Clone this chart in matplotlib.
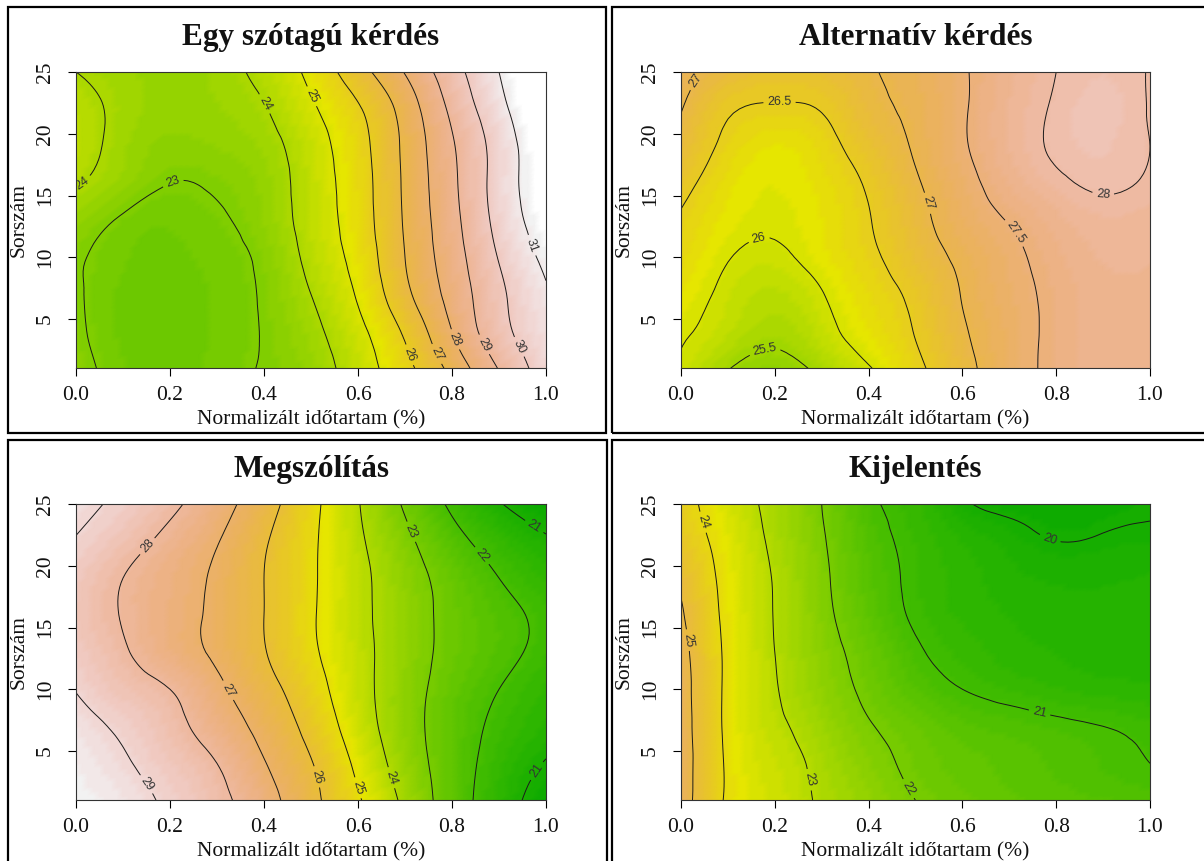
import colorsys
import numpy as np
import matplotlib
matplotlib.use("Agg")
import matplotlib.pyplot as plt
import matplotlib.tri as mtri
from matplotlib.colors import ListedColormap, Normalize
from matplotlib.patches import Rectangle

# ---------------- data ----------------
x_vals = [0.0, 0.1, 0.2, 0.3, 0.4, 0.5, 0.6, 0.7, 0.8, 0.9, 1.0]
y_vals = [1, 4, 7, 10, 13, 16, 19, 22, 25]

titles = ["Egy szótagú kérdés", "Alternatív kérdés", "Megszólítás", "Kijelentés"]
x_label = "Normalizált időtartam (%)"
y_label = "Sorszám"
x_ticks = [0.0, 0.2, 0.4, 0.6, 0.8, 1.0]
x_tick_labels = ["0.0", "0.2", "0.4", "0.6", "0.8", "1.0"]
y_ticks = [5, 10, 15, 20, 25]
y_tick_labels = ["5", "10", "15", "20", "25"]

# rows: y = 1, 4, 7, ..., 25 ; columns: x = 0.0 ... 1.0
egy_z = [
    [23.3, 22.7, 22.55, 22.75, 23.05, 23.5, 24.5, 25.7, 27.3, 29.05, 30.5],
    [23.15, 22.6, 22.5, 22.7, 23.05, 23.75, 24.75, 26.15, 28.0, 29.65, 30.7],
    [23.1, 22.6, 22.5, 22.7, 23.1, 24.0, 25.1, 26.75, 28.35, 29.8, 30.9],
    [23.1, 22.7, 22.6, 22.75, 23.2, 24.25, 25.35, 27.0, 28.55, 30.05, 31.2],
    [23.5, 22.9, 22.7, 22.9, 23.4, 24.4, 25.5, 27.1, 28.7, 30.3, 31.5],
    [24.05, 23.5, 23.0, 23.1, 23.5, 24.45, 25.55, 27.15, 28.8, 30.4, 31.7],
    [24.4, 23.7, 23.3, 23.4, 23.7, 24.55, 25.65, 27.2, 28.9, 30.4, 31.9],
    [24.3, 23.8, 23.5, 23.6, 23.95, 24.85, 25.9, 27.4, 29.2, 30.7, 32.3],
    [24.0, 23.7, 23.5, 23.7, 24.25, 25.25, 26.6, 28.05, 29.6, 31.0, 32.5],
]
alt_z = [
    [25.95, 25.52, 25.35, 25.6, 25.97, 26.4, 26.85, 27.3, 27.6, 27.75, 27.75],
    [26.05, 25.8, 25.6, 25.85, 26.2, 26.52, 26.95, 27.3, 27.6, 27.75, 27.75],
    [26.2, 25.9, 25.75, 25.98, 26.3, 26.6, 27.02, 27.35, 27.6, 27.75, 27.75],
    [26.35, 26.02, 25.93, 26.15, 26.42, 26.75, 27.1, 27.4, 27.65, 27.8, 27.8],
    [26.45, 26.15, 26.05, 26.2, 26.48, 26.85, 27.25, 27.52, 27.75, 27.88, 27.85],
    [26.65, 26.25, 26.1, 26.25, 26.55, 26.95, 27.35, 27.7, 27.93, 28.05, 27.95],
    [26.85, 26.4, 26.2, 26.35, 26.7, 27.05, 27.45, 27.8, 28.05, 28.12, 28.0],
    [27.02, 26.55, 26.45, 26.52, 26.85, 27.1, 27.45, 27.8, 28.04, 28.15, 27.98],
    [27.15, 26.85, 26.7, 26.75, 26.95, 27.15, 27.45, 27.75, 28.0, 28.1, 27.98],
]
meg_z = [
    [29.6, 29.35, 28.85, 28.25, 27.4, 26.25, 25.1, 23.8, 22.5, 21.45, 20.55],
    [29.5, 29.1, 28.6, 28.0, 27.05, 26.05, 24.8, 23.55, 22.5, 21.6, 20.95],
    [29.3, 28.85, 28.3, 27.55, 26.7, 25.7, 24.5, 23.4, 22.5, 21.8, 21.3],
    [28.97, 28.45, 28.0, 27.2, 26.35, 25.4, 24.35, 23.4, 22.6, 22.0, 21.5],
    [28.7, 28.1, 27.45, 26.85, 26.05, 25.15, 24.3, 23.45, 22.75, 22.25, 21.75],
    [28.55, 27.95, 27.4, 26.8, 26.0, 25.1, 24.25, 23.45, 22.75, 22.25, 21.8],
    [28.65, 28.0, 27.45, 26.85, 26.0, 25.12, 24.25, 23.4, 22.65, 22.0, 21.5],
    [28.95, 28.4, 27.75, 27.05, 26.1, 25.15, 24.15, 23.2, 22.3, 21.6, 21.1],
    [29.25, 28.8, 28.2, 27.4, 26.4, 25.25, 24.05, 22.9, 21.85, 21.05, 20.5],
]
kij_z = [
    [25.5, 23.9, 23.4, 22.9, 22.45, 22.0, 21.75, 21.55, 21.45, 21.35, 21.3],
    [25.5, 23.9, 23.3, 22.8, 22.25, 21.85, 21.6, 21.45, 21.3, 21.15, 21.0],
    [25.45, 23.85, 23.15, 22.6, 22.05, 21.7, 21.4, 21.25, 21.12, 21.0, 20.85],
    [25.4, 23.85, 23.05, 22.4, 21.85, 21.35, 21.0, 20.8, 20.65, 20.55, 20.5],
    [25.3, 23.85, 23.0, 22.3, 21.7, 21.1, 20.75, 20.55, 20.45, 20.4, 20.4],
    [25.1, 23.8, 22.97, 22.2, 21.5, 20.9, 20.6, 20.45, 20.35, 20.35, 20.35],
    [24.85, 23.75, 22.95, 22.15, 21.4, 20.85, 20.55, 20.35, 20.25, 20.25, 20.3],
    [24.5, 23.65, 22.85, 22.08, 21.3, 20.8, 20.45, 20.2, 20.0, 20.05, 20.1],
    [24.3, 23.5, 22.75, 22.0, 21.15, 20.7, 20.1, 19.85, 19.8, 19.85, 19.95],
]

egy_levels = [23, 24, 25, 26, 27, 28, 29, 30, 31]
alt_levels = [25.5, 26, 26.5, 27, 27.5, 28]
meg_levels = [21, 22, 23, 24, 25, 26, 27, 28, 29]
kij_levels = [20, 21, 22, 23, 24, 25]

# colour-scale limits of each panel
egy_zlim = (19.3, 31.3)
alt_zlim = (23.55, 28.85)
meg_zlim = (20.2, 29.7)
kij_zlim = (19.4, 28.2)


# ---------------- helpers ----------------
def terrain_colors(n):
    k = n // 2
    h = (4 / 12, 2 / 12, 0.0)
    s = (1.0, 1.0, 0.0)
    v = (0.65, 0.9, 0.95)
    cols = [colorsys.hsv_to_rgb(a, b, c) for a, b, c in zip(
        np.linspace(h[0], h[1], k), np.linspace(s[0], s[1], k), np.linspace(v[0], v[1], k))]
    cols += [colorsys.hsv_to_rgb(a, b, c) for a, b, c in zip(
        np.linspace(h[1], h[2], n - k + 1)[1:], np.linspace(s[1], s[2], n - k + 1)[1:],
        np.linspace(v[1], v[2], n - k + 1)[1:])]
    return cols


cmap = ListedColormap(terrain_colors(50))
cmap.set_over("white")

plt.rcParams["font.family"] = ["Liberation Sans", "DejaVu Sans"]
SERIF = ["Liberation Serif", "DejaVu Serif"]

W, H = 1204, 861
fig = plt.figure(figsize=(W / 100, H / 100), dpi=100)


def frac_rect(l, t, r, b):
    return [l / W, 1 - b / H, (r - l) / W, (b - t) / H]


# panel frames
for (l, t, r, b) in [(8, 7, 606, 433), (612, 7, 1215, 433), (8, 440, 607, 875), (612, 440, 1215, 875)]:
    fig.add_artist(Rectangle((l / W, 1 - b / H), (r - l) / W, (b - t) / H,
                             transform=fig.transFigure, fill=False, lw=1.6, ec="black"))

xs = np.asarray(x_vals, float)
ys = np.asarray(y_vals, float)
nx, ny = len(xs), len(ys)
Xg, Yg = np.meshgrid(xs, ys)
yspan = ys.max() - ys.min()
tris = []
for j in range(ny - 1):
    for i in range(nx - 1):
        a = j * nx + i
        tris.append([a, a + 1, a + nx + 1])
        tris.append([a, a + nx + 1, a + nx])
base_tri = mtri.Triangulation(Xg.ravel(), (Yg.ravel() - ys.min()) / yspan, tris)
refiner = mtri.UniformTriRefiner(base_tri)

panels = [
    dict(title=titles[0], z=egy_z, levels=egy_levels, zlim=egy_zlim,
         px=(76, 72, 546, 368.4),
         lab=[(0.015, 15.9), (0.206, 16.1), (0.39, 22.2), (0.50, 23.0), (0.71, 2.1),
              (0.775, 2.3), (0.817, 3.5), (0.877, 3.1), (0.95, 2.9), (0.972, 11.0)]),
    dict(title=titles[1], z=alt_z, levels=alt_levels, zlim=alt_zlim,
         px=(681, 72, 1150, 368.4),
         lab=[(0.05, 23.8), (0.21, 22.7), (0.164, 11.9), (0.18, 2.2), (0.537, 14.5),
              (0.705, 11.8), (0.90, 14.6)]),
    dict(title=titles[2], z=meg_z, levels=meg_levels, zlim=meg_zlim,
         px=(76, 504, 546, 800.4),
         lab=[(0.157, 21.4), (0.15, 2.3), (0.328, 10.0), (0.502, 2.8), (0.598, 2.0),
              (0.668, 2.8), (0.71, 22.7), (0.86, 20.7), (0.972, 23.0), (0.98, 3.4)]),
    dict(title=titles[3], z=kij_z, levels=kij_levels, zlim=kij_zlim,
         px=(681, 504, 1150, 800.4),
         lab=[(0.019, 14.0), (0.062, 23.7), (0.264, 2.6), (0.478, 1.8), (0.765, 8.2),
              (0.787, 22.2)]),
]

for p in panels:
    l, t, r, b = p["px"]
    ax = fig.add_axes(frac_rect(l, t, r, b))
    rtri, rz = refiner.refine_field(np.asarray(p["z"], float).ravel(), subdiv=3)
    ptri = mtri.Triangulation(rtri.x, rtri.y * yspan + ys.min(), rtri.triangles)
    ax.tripcolor(ptri, rz, shading="gouraud", cmap=cmap,
                 norm=Normalize(vmin=p["zlim"][0], vmax=p["zlim"][1]))
    cs = ax.tricontour(ptri, rz, levels=p["levels"], colors="#1a1a1a", linewidths=0.7)
    ax.clabel(cs, manual=p["lab"], inline=True, inline_spacing=4, fontsize=9,
              colors="#333333", fmt=lambda v: f"{v:g}")
    ax.set_xlim(xs.min(), xs.max())
    ax.set_ylim(ys.min(), ys.max())
    ax.set_xticks(x_ticks)
    ax.set_xticklabels(x_tick_labels)
    ax.set_yticks(y_ticks)
    ax.set_yticklabels(y_tick_labels, rotation=90, va="center")
    ax.tick_params(axis="both", direction="out", length=6, width=0.8, color="black",
                   labelsize=15.5, labelfontfamily="Liberation Serif", labelcolor="#111111")
    ax.tick_params(axis="x", pad=7)
    ax.tick_params(axis="y", pad=9)
    for sp in ax.spines.values():
        sp.set_linewidth(0.8)
        sp.set_color("#333333")
    cx = (l + r) / 2
    fig.text(cx / W, 1 - (t - 27) / H, p["title"], ha="center", va="baseline",
             fontsize=22.5, fontweight="bold", family=SERIF, color="#111111")
    fig.text(cx / W, 1 - (b + 55.6) / H, x_label, ha="center", va="baseline",
             fontsize=15.5, family=SERIF, color="#111111")
    fig.text((l - 57) / W, 1 - ((t + b) / 2) / H, y_label, ha="center", va="center",
             rotation=90, fontsize=15.5, family=SERIF, color="#111111")

fig.savefig("out.png", dpi=100)
